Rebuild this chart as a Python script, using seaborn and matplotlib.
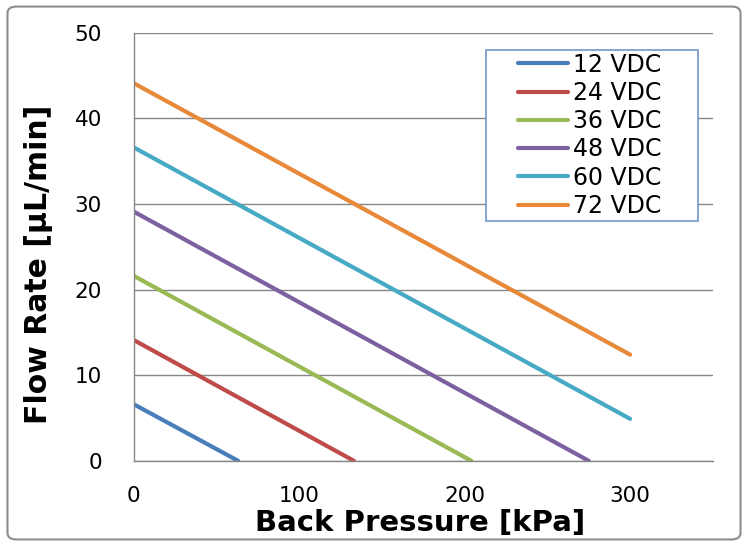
import matplotlib
matplotlib.use("Agg")
import matplotlib.pyplot as plt
import seaborn as sns
import pandas as pd
from matplotlib.patches import FancyBboxPatch, Rectangle
from matplotlib.ticker import MultipleLocator

# Data
voltages = ["12 VDC", "24 VDC", "36 VDC", "48 VDC", "60 VDC", "72 VDC"]
pressure_start = [0, 0, 0, 0, 0, 0]
pressure_end = [63, 133, 204, 275, 300, 300]
flow_start = [6.6, 14.1, 21.6, 29.1, 36.6, 44.1]
flow_end = [0.0, 0.0, 0.0, 0.0, 4.9, 12.4]
colors = ["#4A7EBB", "#BE4B48", "#98B954", "#7D60A0", "#46AAC5", "#E8893A"]

rows = []
for v, p0, p1, q0, q1 in zip(voltages, pressure_start, pressure_end, flow_start, flow_end):
    rows.append({"Voltage": v, "Pressure": p0, "Flow": q0})
    rows.append({"Voltage": v, "Pressure": p1, "Flow": q1})
df = pd.DataFrame(rows)

sns.set_style("white")
plt.rcParams["font.family"] = ["DejaVu Sans"]
plt.rcParams["text.color"] = "black"
plt.rcParams["axes.labelcolor"] = "black"

fig = plt.figure(figsize=(7.48, 5.46), dpi=100)
ax = fig.add_axes([0.179, 0.156, 0.774, 0.784])

gray = "#868686"
sns.lineplot(data=df, x="Pressure", y="Flow", hue="Voltage", hue_order=voltages,
             palette=colors, linewidth=3.0, ax=ax, legend=True,
             solid_capstyle="round")

ax.set_xlim(0, 350)
ax.set_ylim(0, 50)
ax.xaxis.set_major_locator(MultipleLocator(100))
ax.xaxis.set_minor_locator(MultipleLocator(50))
ax.yaxis.set_major_locator(MultipleLocator(10))
ax.yaxis.set_minor_locator(MultipleLocator(5))
ax.grid(axis="y", which="major", color=gray, linewidth=1.0)
ax.grid(axis="x", visible=False)
ax.set_axisbelow(True)

for s in ["top", "right"]:
    ax.spines[s].set_visible(False)
for s in ["left", "bottom"]:
    ax.spines[s].set_color(gray)
    ax.spines[s].set_linewidth(1.0)

ax.tick_params(axis="both", which="major", direction="inout", length=14, width=1.0,
               color=gray, labelsize=15.5, labelcolor="black")
ax.tick_params(axis="both", which="minor", direction="in", length=6, width=1.0, color=gray)
ax.tick_params(axis="x", which="major", pad=11)
ax.tick_params(axis="y", which="major", pad=16)

ax.set_xlabel("Back Pressure [kPa]", fontsize=21, fontweight="bold", color="black")
ax.set_ylabel("Flow Rate [µL/min]", fontsize=21.5, fontweight="bold", color="black")
ax.xaxis.set_label_coords(0.494, -0.112)
ax.yaxis.set_label_coords(-0.140, 0.458)

leg = ax.legend(loc="center", bbox_to_anchor=(0.788, 0.7605), fontsize=17,
                frameon=False, handlelength=2.1, handletextpad=0.22,
                labelspacing=0.18, borderpad=0.0, borderaxespad=0)
for t in leg.get_texts():
    t.set_color("black")
for h in leg.get_lines():
    h.set_linewidth(3.0)
    h.set_solid_capstyle("round")

frame = Rectangle((0.608, 0.561), 0.974 - 0.608, 0.960 - 0.561,
                  transform=ax.transAxes, fill=True, facecolor="white",
                  edgecolor="#7BA0CD", linewidth=1.3, zorder=4)
ax.add_patch(frame)
leg.set_zorder(5)

border = FancyBboxPatch((0.01, 0.012), 0.98, 0.976,
                        boxstyle="round,pad=0,rounding_size=0.012",
                        transform=fig.transFigure, fill=False,
                        edgecolor="#8C8C8C", linewidth=1.5)
fig.patches.append(border)

fig.savefig("out.png", dpi=100)
